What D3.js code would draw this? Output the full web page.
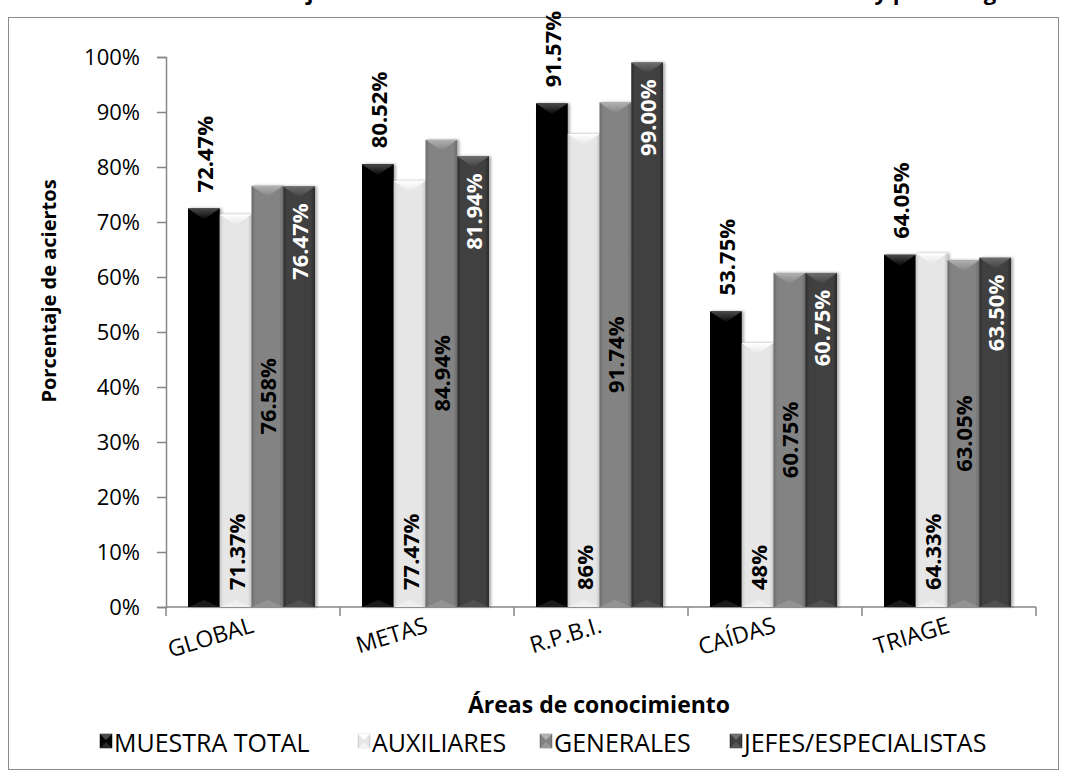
<!DOCTYPE html>
<html>
<head>
<meta charset="utf-8">
<script src="https://cdn.jsdelivr.net/npm/d3@7"></script>
<style>
  html, body { margin: 0; padding: 0; background: #fff; }
  svg { display: block; font-family: "Open Sans", "DejaVu Sans", sans-serif; }
</style>
</head>
<body>
<svg id="chart" width="1065" height="777"></svg>
<script>
// Knowledge areas and the share of correct answers per staff group
const categories = ["GLOBAL", "METAS", "R.P.B.I.", "CAÍDAS", "TRIAGE"];
const seriesNames = ["MUESTRA TOTAL", "AUXILIARES", "GENERALES", "JEFES/ESPECIALISTAS"];
const muestraTotal = [72.47, 80.52, 91.57, 53.75, 64.05];
const auxiliares   = [71.37, 77.47, 86.00, 48.00, 64.33];
const generales    = [76.58, 84.94, 91.74, 60.75, 63.05];
const jefes        = [76.47, 81.94, 99.00, 60.75, 63.50];
const auxLabels    = ["71.37%", "77.47%", "86%", "48%", "64.33%"];
const yTicks = [0, 10, 20, 30, 40, 50, 60, 70, 80, 90, 100];

const seriesValues = [muestraTotal, auxiliares, generales, jefes];
const fmt = v => v.toFixed(2) + "%";
const labelText = [
  muestraTotal.map(fmt),
  auxLabels,
  generales.map(fmt),
  jefes.map(fmt)
];

// bevelled fill styles: body shade, edge shade, top facet shade
const styles = [
  { body: "#060606", edge: "#000000", facet: "#4a4a4a", label: "#000", pos: "above" },
  { body: "#e6e6e6", edge: "#c9c9c9", facet: "#ffffff", label: "#000", pos: "base" },
  { body: "#838383", edge: "#6a6a6a", facet: "#b2b2b2", label: "#000", pos: "center" },
  { body: "#404040", edge: "#2a2a2a", facet: "#6e6e6e", label: "#fff", pos: "end" }
];

const svg = d3.select("#chart");
const defs = svg.append("defs");

styles.forEach((s, i) => {
  const g = defs.append("linearGradient").attr("id", "body" + i)
    .attr("x1", "0").attr("x2", "1").attr("y1", "0").attr("y2", "0");
  g.append("stop").attr("offset", "0").attr("stop-color", s.edge);
  g.append("stop").attr("offset", "0.12").attr("stop-color", s.body);
  g.append("stop").attr("offset", "0.88").attr("stop-color", s.body);
  g.append("stop").attr("offset", "1").attr("stop-color", s.edge);
  const f = defs.append("linearGradient").attr("id", "facet" + i)
    .attr("x1", "0").attr("x2", "0").attr("y1", "0").attr("y2", "1");
  f.append("stop").attr("offset", "0").attr("stop-color", s.facet);
  f.append("stop").attr("offset", "1").attr("stop-color", s.body);
});

const shadow = defs.append("filter").attr("id", "shadow")
  .attr("x", "-20%").attr("y", "-5%").attr("width", "150%").attr("height", "110%");
shadow.append("feDropShadow").attr("dx", 2).attr("dy", 0)
  .attr("stdDeviation", 1.5).attr("flood-color", "#000").attr("flood-opacity", 0.35);

// chart frame
svg.append("rect").attr("x", 8.5).attr("y", 17.5).attr("width", 1050).attr("height", 752)
  .attr("fill", "#fff").attr("stroke", "#8c8c8c").attr("stroke-width", 1);

// title (runs off the top edge of the page)
svg.append("text").attr("x", 561).attr("y", 0).attr("text-anchor", "middle")
  .attr("font-size", 22).attr("font-weight", 700).attr("fill", "#000")
  .attr("textLength", 958).attr("lengthAdjust", "spacingAndGlyphs")
  .text("GRÁFICA 1. Porcentaje de aciertos en conocimientos de toda la muestra y por categoría");

const plot = { left: 166, right: 1036, top: 57, bottom: 607 };

const y = d3.scaleLinear().domain([0, 100]).range([plot.bottom, plot.top]);
const x = d3.scaleBand().domain(categories).range([plot.left, plot.right]);
const xs = d3.scaleBand().domain(d3.range(seriesNames.length))
  .range([22, x.bandwidth() - 25]);

// y axis
const yAxis = svg.append("g").attr("transform", `translate(${plot.left},0)`)
  .call(d3.axisLeft(y).tickValues(yTicks).tickFormat(d => d + "%")
    .tickSize(9).tickPadding(17));
yAxis.select(".domain").attr("stroke", "#868686").attr("stroke-width", 1.5);
yAxis.selectAll(".tick line").attr("stroke", "#868686").attr("stroke-width", 1.5);
yAxis.selectAll(".tick text").attr("font-size", 22).attr("fill", "#000")
  .attr("font-family", "'Open Sans', sans-serif");

// x axis with ticks on category boundaries
const xAxis = svg.append("g").attr("transform", `translate(0,${plot.bottom})`);
xAxis.append("line").attr("x1", plot.left).attr("x2", plot.right)
  .attr("stroke", "#868686").attr("stroke-width", 1.5);
const bounds = categories.map(c => x(c)).concat([x(categories[categories.length - 1]) + x.bandwidth()]);
xAxis.selectAll("line.tk").data(bounds).join("line").attr("class", "tk")
  .attr("x1", d => d).attr("x2", d => d).attr("y1", 0).attr("y2", 9)
  .attr("stroke", "#868686").attr("stroke-width", 1.5);
xAxis.selectAll("text.cat").data(categories).join("text").attr("class", "cat")
  .attr("transform", d => `translate(${x(d) + x.bandwidth() / 2 + 2},${25}) rotate(-17)`)
  .attr("text-anchor", "end").attr("font-size", 23).attr("fill", "#000")
  .text(d => d);

// bars
const groups = svg.append("g").selectAll("g.cat").data(categories).join("g")
  .attr("class", "cat").attr("transform", d => `translate(${x(d)},0)`);

const barData = (c, ci) => seriesValues.map((vals, si) => ({ si, ci, v: vals[ci] }));

groups.each(function (c, ci) {
  const g = d3.select(this);
  const bars = g.selectAll("g.bar").data(barData(c, ci)).join("g").attr("class", "bar");
  bars.append("rect")
    .attr("x", d => xs(d.si)).attr("width", xs.bandwidth())
    .attr("y", d => y(d.v)).attr("height", d => y(0) - y(d.v))
    .attr("fill", d => `url(#body${d.si})`)
    .attr("filter", "url(#shadow)");
  // top bevel facet
  bars.append("path")
    .attr("d", d => {
      const x0 = xs(d.si), x1 = x0 + xs.bandwidth(), t = y(d.v);
      return `M${x0},${t}L${x1},${t}L${(x0 + x1) / 2},${t + 11}Z`;
    })
    .attr("fill", d => `url(#facet${d.si})`);
  // bottom bevel facet
  bars.append("path")
    .attr("d", d => {
      const x0 = xs(d.si), x1 = x0 + xs.bandwidth(), b = y(0);
      return `M${x0},${b}L${x1},${b}L${(x0 + x1) / 2},${b - 7}Z`;
    })
    .attr("fill", d => styles[d.si].facet).attr("opacity", 0.35);
});

// value labels, rotated
groups.each(function (c, ci) {
  const g = d3.select(this);
  g.selectAll("text.val").data(barData(c, ci)).join("text").attr("class", "val")
    .attr("font-size", 22).attr("font-weight", 700)
    .attr("fill", d => styles[d.si].label)
    .attr("dominant-baseline", "central")
    .attr("text-anchor", d => ({ above: "start", base: "start", center: "middle", end: "end" })[styles[d.si].pos])
    .attr("transform", d => {
      const cx = xs(d.si) + xs.bandwidth() / 2;
      let ty;
      const pos = styles[d.si].pos;
      if (pos === "above") ty = y(d.v) - 16;
      else if (pos === "base") ty = y(0) - 17;
      else if (pos === "center") ty = (y(d.v) + y(0)) / 2;
      else ty = y(d.v) + 17;
      return `translate(${cx},${ty}) rotate(-90)`;
    })
    .text(d => labelText[d.si][d.ci]);
});

// axis titles
svg.append("text")
  .attr("transform", `translate(48,${(plot.top + plot.bottom) / 2 - 41}) rotate(-90)`)
  .attr("text-anchor", "middle").attr("dominant-baseline", "central")
  .attr("font-size", 20).attr("font-weight", 700).text("Porcentaje de aciertos");
svg.append("text").attr("x", (plot.left + plot.right) / 2 - 2).attr("y", 713)
  .attr("text-anchor", "middle").attr("font-size", 23).attr("font-weight", 700)
  .text("Áreas de conocimiento");

// legend
const legendX = [100, 358, 540, 730];
const legend = svg.append("g").selectAll("g").data(seriesNames).join("g")
  .attr("transform", (d, i) => `translate(${legendX[i]},741)`);
legend.append("rect").attr("x", 0).attr("y", -7).attr("width", 12).attr("height", 14)
  .attr("fill", (d, i) => `url(#body${i})`).attr("stroke", (d, i) => styles[i].edge).attr("stroke-width", 0.5);
legend.append("path").attr("d", "M0,-7L12,-7L6,-1Z").attr("fill", (d, i) => styles[i].facet);
legend.append("path").attr("d", "M0,7L12,7L6,1Z").attr("fill", (d, i) => styles[i].facet).attr("opacity", 0.5);
legend.append("text").attr("x", 14).attr("y", 1).attr("dominant-baseline", "central")
  .attr("font-size", 25).attr("fill", "#000").text(d => d);
</script>
</body>
</html>
